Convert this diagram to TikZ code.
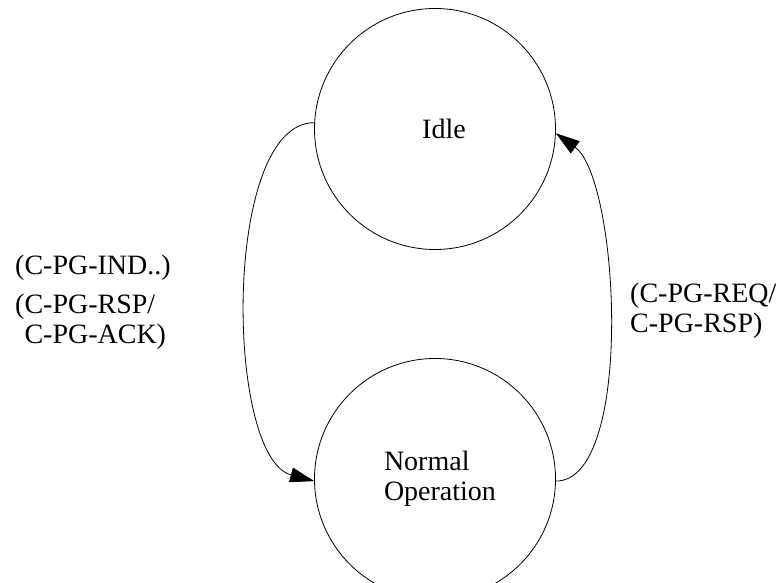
\documentclass[tikz,border=0pt]{standalone}
\usepackage{fontspec}
\setmainfont{Liberation Serif}
\usetikzlibrary{arrows.meta}

\begin{document}
\begin{tikzpicture}[x=1pt,y=1pt,
        state/.style={draw,circle,minimum size=241pt,inner sep=0pt,line width=0.8pt},
        trans/.style={->,line width=0.8pt},
        msg/.style={anchor=west,inner sep=0pt,align=left},
        >={Triangle[length=24pt,width=15pt]},
        font=\rmfamily\fontsize{28}{30}\selectfont]
        \clip (0,0) rectangle (779,583);
        \node[state] (idle) at (435,454) {\hspace*{18pt}Idle};
        \node[state,align=left] (normal) at (435,104) {\hspace*{10pt}Normal\\\hspace*{10pt}Operation};
        \draw[trans] (idle.177) to[out=180,in=165,looseness=0.66] (normal.181);
        \draw[trans] (normal.-1) to[out=0,in=-36,looseness=0.58] (idle.-2);
        \node[msg] (ind) at (15,315) {(C-PG-IND..)};
        \node[msg] (rspack) at (15,261) {(C-PG-RSP/\\\phantom{(}C-PG-ACK)};
        \node[msg] (reqrsp) at (630,272) {(C-PG-REQ/\\C-PG-RSP)};
    \end{tikzpicture}
\end{document}
